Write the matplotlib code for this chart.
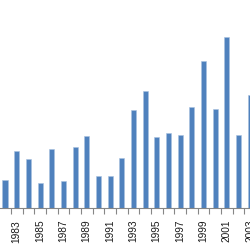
import numpy as np
from matplotlib import pyplot

years = list(range(1982, 2004))
values = [27.7, 57.3, 48.7, 25.0, 58.7, 27.0, 61.3, 72.0, 32.3, 32.0, 50.0,
          98.0, 116.7, 70.7, 75.0, 72.7, 100.7, 147.3, 98.7, 171.3, 72.7, 112.7]
label_years = [y for y in years if y % 2 == 1]

fig = pyplot.figure(figsize=(2.5, 2.5), dpi=100)
ax = fig.add_axes([0, 42 / 250, 1, 208 / 250])

x = np.arange(len(years))
ax.bar(x, values, width=0.43, color='#4f81bd', edgecolor='#a9c1df', linewidth=0.4)

for side in ('top', 'right', 'left'):
    ax.spines[side].set_visible(False)
ax.spines['bottom'].set_color('#868686')
ax.spines['bottom'].set_linewidth(0.8)
ax.set_yticks([])

label_font = dict(fontsize=7.3, family='Liberation Sans', color='#1a1a1a')
ax.set_xticks([years.index(y) for y in label_years])
ax.set_xticklabels([str(y) for y in label_years], rotation=90, **label_font)
ax.tick_params(axis='x', which='major', length=0, pad=8.5)
ax.set_xticks(np.arange(-0.5, len(years), 1), minor=True)
ax.tick_params(axis='x', which='minor', length=4, color='#868686', width=0.8)

# ticks first, then limits (set_xticks widens the view)
ax.set_xlim(-5 / 11.67, 245 / 11.67)
ax.set_ylim(0, 208)

# the last label sits past the right edge, only partly shown
last = label_years[-1]
ax.annotate(str(last), xy=(years.index(last), 0), xycoords=('data', 'axes fraction'),
            xytext=(0, -8.5), textcoords='offset points', rotation=90,
            ha='center', va='top', annotation_clip=False, **label_font)

pyplot.savefig('out.png', dpi=100)
